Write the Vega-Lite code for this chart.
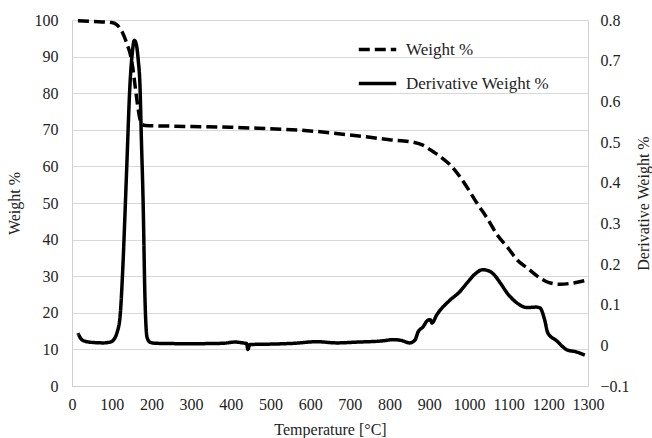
{
  "$schema": "https://vega.github.io/schema/vega-lite/v6.json",
  "autosize": "none",
  "width": 516,
  "height": 366,
  "padding": {"left": 72, "top": 20, "right": 64, "bottom": 52},
  "background": "white",
  "config": {
    "font": "'Times New Roman', 'Liberation Serif', serif",
    "view": {"stroke": null},
    "axis": {"labelFont": "'Times New Roman', 'Liberation Serif', serif", "titleFont": "'Times New Roman', 'Liberation Serif', serif", "labelFontSize": 16, "titleFontSize": 16, "labelColor": "#222", "titleColor": "#222", "titleFontWeight": "normal", "ticks": false, "domainColor": "#d0d0d0", "gridColor": "#d9d9d9"},
    "legend": {"labelFont": "'Times New Roman', 'Liberation Serif', serif"}
  },
  "datasets": {
    "w": [
      {"T": 15, "v": 99.8}, {"T": 50, "v": 99.6}, {"T": 100, "v": 99.3}, {"T": 115, "v": 98.5}, {"T": 128, "v": 96.4}, {"T": 140, "v": 93}, {"T": 146, "v": 91}, {"T": 153, "v": 87}, {"T": 159, "v": 82}, {"T": 165, "v": 77}, {"T": 171, "v": 73}, {"T": 176, "v": 71.5}, {"T": 185, "v": 71.2}, {"T": 250, "v": 71.0}, {"T": 300, "v": 70.9}, {"T": 400, "v": 70.7}, {"T": 450, "v": 70.5}, {"T": 500, "v": 70.3}, {"T": 600, "v": 69.7}, {"T": 700, "v": 68.6}, {"T": 800, "v": 67.3}, {"T": 860, "v": 66.6}, {"T": 884, "v": 65.8}, {"T": 910, "v": 64.0}, {"T": 930, "v": 62.5}, {"T": 952, "v": 60.5}, {"T": 975, "v": 57.5}, {"T": 1000, "v": 53.5}, {"T": 1020, "v": 50}, {"T": 1045, "v": 46}, {"T": 1070, "v": 41.5}, {"T": 1100, "v": 37.5}, {"T": 1121, "v": 34.5}, {"T": 1150, "v": 32}, {"T": 1179, "v": 29.5}, {"T": 1200, "v": 28.3}, {"T": 1229, "v": 27.8}, {"T": 1260, "v": 28.1}, {"T": 1300, "v": 29}
    ],
    "d": [
      {"T": 15, "v": 0.030}, {"T": 22, "v": 0.017}, {"T": 30, "v": 0.011}, {"T": 53, "v": 0.007}, {"T": 80, "v": 0.006}, {"T": 96, "v": 0.008}, {"T": 106, "v": 0.015}, {"T": 113, "v": 0.030}, {"T": 121, "v": 0.07}, {"T": 128, "v": 0.19}, {"T": 133, "v": 0.31}, {"T": 138, "v": 0.44}, {"T": 146, "v": 0.64}, {"T": 152, "v": 0.72}, {"T": 157, "v": 0.75}, {"T": 162, "v": 0.74}, {"T": 167, "v": 0.70}, {"T": 171, "v": 0.645}, {"T": 175, "v": 0.50}, {"T": 179, "v": 0.36}, {"T": 184, "v": 0.11}, {"T": 189, "v": 0.02}, {"T": 196, "v": 0.008}, {"T": 210, "v": 0.005}, {"T": 300, "v": 0.004}, {"T": 380, "v": 0.005}, {"T": 410, "v": 0.008}, {"T": 430, "v": 0.006}, {"T": 440, "v": 0.004}, {"T": 443, "v": -0.01}, {"T": 448, "v": 0.002}, {"T": 500, "v": 0.003}, {"T": 560, "v": 0.005}, {"T": 617, "v": 0.009}, {"T": 667, "v": 0.006}, {"T": 720, "v": 0.008}, {"T": 783, "v": 0.011}, {"T": 809, "v": 0.014}, {"T": 830, "v": 0.012}, {"T": 851, "v": 0.006}, {"T": 864, "v": 0.013}, {"T": 872, "v": 0.033}, {"T": 884, "v": 0.045}, {"T": 897, "v": 0.062}, {"T": 903, "v": 0.063}, {"T": 907, "v": 0.055}, {"T": 919, "v": 0.075}, {"T": 952, "v": 0.111}, {"T": 975, "v": 0.13}, {"T": 995, "v": 0.153}, {"T": 1015, "v": 0.175}, {"T": 1035, "v": 0.186}, {"T": 1050, "v": 0.183}, {"T": 1061, "v": 0.176}, {"T": 1080, "v": 0.152}, {"T": 1096, "v": 0.129}, {"T": 1120, "v": 0.105}, {"T": 1146, "v": 0.093}, {"T": 1170, "v": 0.094}, {"T": 1179, "v": 0.092}, {"T": 1191, "v": 0.062}, {"T": 1199, "v": 0.030}, {"T": 1220, "v": 0.012}, {"T": 1247, "v": -0.011}, {"T": 1270, "v": -0.016}, {"T": 1292, "v": -0.024}
    ]
  },
  "encoding": {
    "x": {"field": "T", "type": "quantitative", "scale": {"domain": [0, 1300], "nice": false}, "axis": {"title": "Temperature [°C]", "format": "d", "values": [0,100,200,300,400,500,600,700,800,900,1000,1100,1200,1300], "grid": false, "labelPadding": 10, "titlePadding": 9, "labelFlush": false}}
  },
  "layer": [
    {
      "data": {"name": "w"},
      "mark": {"type": "line", "color": "black", "strokeWidth": 3.5, "interpolate": "monotone"},
      "encoding": {
        "y": {"field": "v", "type": "quantitative", "scale": {"domain": [0, 100], "nice": false}, "axis": {"title": "Weight %", "values": [0,10,20,30,40,50,60,70,80,90,100], "orient": "left", "labelPadding": 14, "titlePadding": 12}},
        "strokeDash": {"datum": "Weight %", "type": "nominal", "scale": {"domain": ["Weight %", "Derivative Weight %"], "range": [[11, 5], [1, 0]]}, "legend": {"title": null, "orient": "none", "legendX": 285, "legendY": 9, "symbolType": "stroke", "symbolSize": 1400, "symbolStrokeWidth": 3.5, "symbolStrokeColor": "black", "labelFontSize": 17, "labelColor": "#222", "rowPadding": 5, "labelOffset": 8}}
      }
    },
    {
      "data": {"name": "d"},
      "mark": {"type": "line", "color": "black", "strokeWidth": 3.5, "interpolate": "monotone"},
      "encoding": {
        "y": {"field": "v", "type": "quantitative", "scale": {"domain": [-0.1, 0.8], "nice": false}, "axis": {"title": "Derivative Weight %", "orient": "right", "titleAngle": -90, "values": [-0.1,0,0.1,0.2,0.3,0.4,0.5,0.6,0.7,0.8], "grid": false, "labelPadding": 12, "titlePadding": 22, "labelExpr": "datum.value == 0 ? '0' : format(datum.value, '.1f')"}},
        "strokeDash": {"datum": "Derivative Weight %", "type": "nominal"}
      }
    }
  ],
  "resolve": {"scale": {"y": "independent"}}
}
